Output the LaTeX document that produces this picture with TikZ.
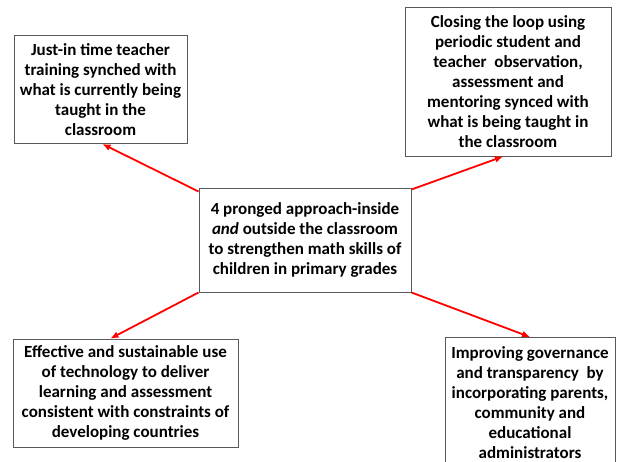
\documentclass[tikz,border=0pt]{standalone}
\usepackage{fontspec}
\setmainfont{Carlito}
\usetikzlibrary{arrows.meta}

\begin{document}
\begin{tikzpicture}[x=1pt, y=-1pt,
  box/.style={draw=black!65, line width=1pt, fill=white, align=center,
    inner sep=0pt, font=\bfseries\fontsize{17}{20}\selectfont},
  prong/.style={draw=red, line width=1.8pt, -{Latex[length=8pt,width=7pt]}}]

\useasboundingbox (0,0) rectangle (619,461);
\clip (0,0) rectangle (619,461);

\node[box, minimum width=173pt, minimum height=108pt] (tl) at (100.5, 89.5)
  {Just-in time teacher\\training synched with\\what is currently being\\taught in the\\classroom};
\node[box, minimum width=206pt, minimum height=149pt] (tr) at (508, 81.5)
  {Closing the loop using\\periodic student and\\teacher\ \ observation,\\assessment and\\mentoring synced with\\what is being taught in\\the classroom};
\node[box, minimum width=212pt, minimum height=104pt] (hub) at (305, 240)
  {4 pronged approach-inside\\\textit{and} outside the classroom\\to strengthen math skills of\\children in primary grades};
\node[box, minimum width=225pt, minimum height=108pt] (bl) at (125.5, 393)
  {Effective and sustainable use\\of technology to deliver\\learning and assessment\\consistent with constraints of\\developing countries};
\node[box, minimum width=170pt, minimum height=130pt, anchor=north] (br) at (530, 337)
  {Improving governance\\and transparency\ \ by\\incorporating parents,\\community and\\educational\\administrators};

\draw[prong] ([yshift=-4]hub.north west) -- ([xshift=2]tl.south);
\draw[prong] ([yshift=-2]hub.north east) -- ([xshift=-5]tr.south);
\draw[prong] (hub.south west) -- ([xshift=-15]bl.north);
\draw[prong] (hub.south east) -- (br.north);

\end{tikzpicture}
\end{document}
